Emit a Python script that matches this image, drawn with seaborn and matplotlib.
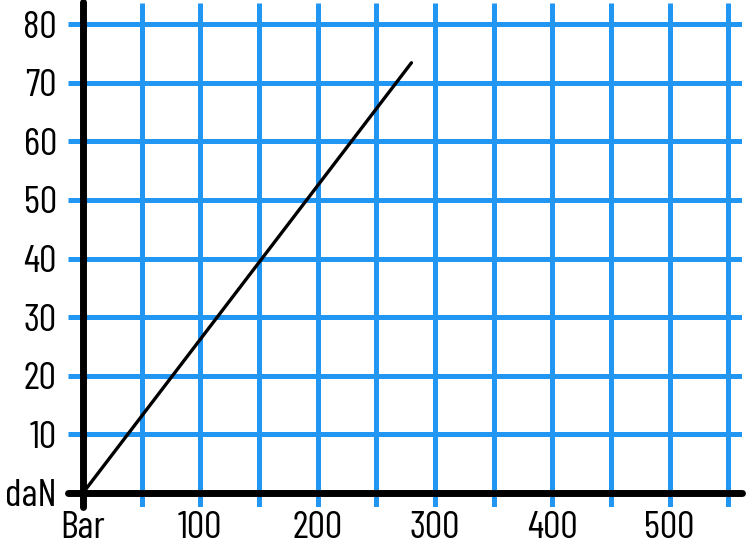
import pandas as pd
import seaborn as sns
import matplotlib.pyplot as plt

#=====================
# Data
#=====================

bar = [0, 280]
dan = [0, 73.4]

x_grid = [50, 100, 150, 200, 250, 300, 350, 400, 450, 500, 550]
y_grid = [10, 20, 30, 40, 50, 60, 70, 80]

x_ticks = [0, 100, 200, 300, 400, 500]
x_labels = ['Bar', '100', '200', '300', '400', '500']
y_ticks = [0, 10, 20, 30, 40, 50, 60, 70, 80]
y_labels = ['daN', '10', '20', '30', '40', '50', '60', '70', '80']

df = pd.DataFrame({'Bar': bar, 'daN': dan})

#=====================
# Plot
#=====================

sns.set_style('white')
plt.rcParams['font.family'] = ['Barlow Condensed', 'DejaVu Sans']

fig = plt.figure(figsize=(7.52, 5.53), dpi=100)
ax = fig.add_axes([0.0904, 0.0832, 0.8963, 0.9114])
xmin, xmax = -12.8, 561.8
ymin, ymax = -2.4, 83.6

blue = '#2196F3'
ax.vlines(x_grid, ymin, ymax, color=blue, lw=3.6, zorder=1)
ax.hlines(y_grid, xmin, xmax, color=blue, lw=3.6, zorder=1)

# black axes
ax.plot([xmin, xmax], [0, 0], color='black', lw=5, solid_capstyle='round', zorder=3, clip_on=False)
ax.plot([0, 0], [ymin, ymax + 0.2], color='black', lw=5, solid_capstyle='round', zorder=3, clip_on=False)

sns.lineplot(data=df, x='Bar', y='daN', color='black', lw=2.4, ax=ax, zorder=4)

ax.set_xlim(xmin, xmax)
ax.set_ylim(ymin, ymax)
ax.set_xticks(x_ticks, x_labels)
ax.set_yticks(y_ticks, y_labels)
ax.tick_params(length=0, labelsize=28, labelcolor='black')
ax.tick_params(axis='x', pad=3)
ax.tick_params(axis='y', pad=8)
ax.set_xlabel('')
ax.set_ylabel('')
for s in ax.spines.values():
    s.set_visible(False)

fig.savefig('out.png', dpi=100)
